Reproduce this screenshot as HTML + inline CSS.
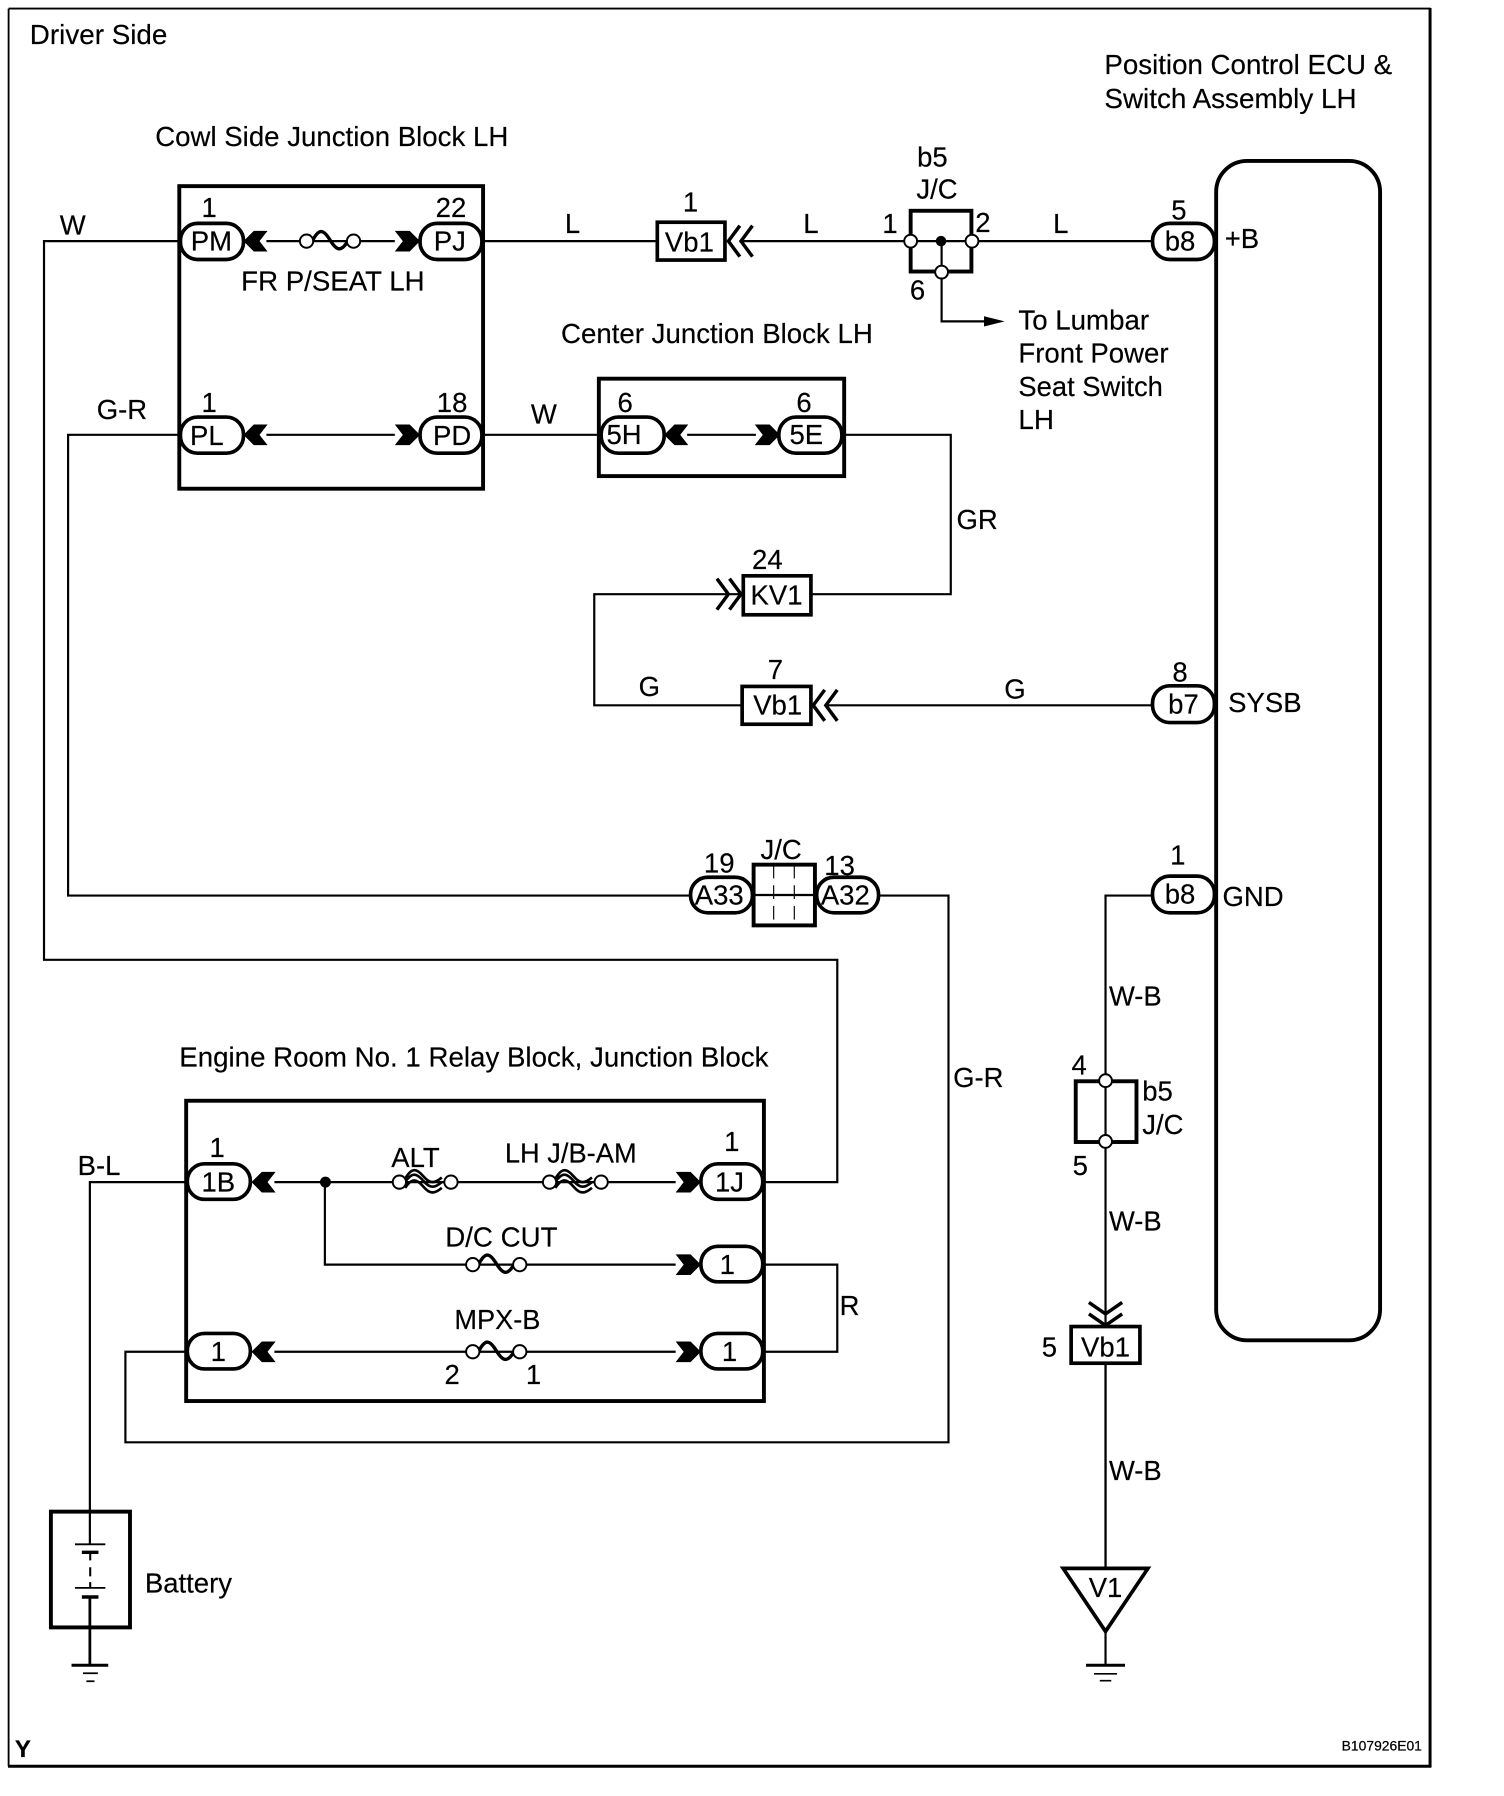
<!DOCTYPE html>
<html><head><meta charset="utf-8"><title>Driver Side wiring diagram</title>
<style>
html,body{margin:0;padding:0;background:#fff}
svg{display:block}
text{font-family:"Liberation Sans",sans-serif;font-size:24px;fill:#000;stroke:#000;stroke-width:.15}
.m{text-anchor:middle}
.w{fill:none;stroke:#000;stroke-width:1.9}
.b{fill:none;stroke:#000;stroke-width:3.4}
.p{fill:#fff;stroke:#000;stroke-width:3.2}
.o{fill:#fff;stroke:#000;stroke-width:1.7}
.c{fill:none;stroke:#000;stroke-width:3}
</style></head><body>
<svg xmlns="http://www.w3.org/2000/svg" width="1504" height="1796" viewBox="0 0 1312 1567" preserveAspectRatio="none">
<defs>
<polygon id="al" points="-1,0 8,-9 20,-9 13,0 20,9 8,9" fill="#000"/>
<polygon id="ar" points="1,0 -8,-9 -21,-9 -14,0 -21,9 -8,9" fill="#000"/>
<path id="cl" d="M10,-13.5 L0,0 L10,13.5 M21,-13.5 L11,0 L21,13.5" class="c"/>
<g id="fuse"><path d="M5,0 C11,-12 15,-10 20.5,-1 C26,8 30,10 36,0" fill="none" stroke="#000" stroke-width="3"/><circle cx="0" cy="0" r="5.8" class="o"/><circle cx="41" cy="0" r="5.8" class="o"/></g>
<g id="fuse2"><path d="M5,-3 C11,-13 15,-12 21,-5 C27,2 31,1 37,-4 M5,0 C11,-9 15,-8 21,-1 C27,6 31,5 37,0 M5,5 C11,-4 15,-3 21,4 C27,11 31,10 37,5" fill="none" stroke="#000" stroke-width="2.3"/><circle cx="0" cy="0" r="5.8" class="o"/><circle cx="45" cy="0" r="5.8" class="o"/></g>
</defs>

<!-- frame -->
<path d="M7.5,7.5 H1248 M7.5,7.5 V1541" fill="none" stroke="#000" stroke-width="1.6"/>
<path d="M1247.5,7 V1542 M7,1541 H1248.5" fill="none" stroke="#000" stroke-width="2.6"/>

<g transform="translate(-.6,-.6)">
<text x="26.6" y="39" textLength="120" lengthAdjust="spacingAndGlyphs">Driver Side</text>
<text x="136" y="128" textLength="308" lengthAdjust="spacingAndGlyphs">Cowl Side Junction Block LH</text>
<text x="964" y="65" textLength="251" lengthAdjust="spacingAndGlyphs">Position Control ECU &amp;</text>
<text x="964" y="95" textLength="220" lengthAdjust="spacingAndGlyphs">Switch Assembly LH</text>
<text x="490" y="300" textLength="272" lengthAdjust="spacingAndGlyphs">Center Junction Block LH</text>
<text x="157" y="931" textLength="514" lengthAdjust="spacingAndGlyphs">Engine Room No. 1 Relay Block, Junction Block</text>

<!-- wires -->
<path class="w" d="M157,211 H39 V838 H731 V1032 H667"/>
<path class="w" d="M157,380 H60 V782 H603"/>
<path class="w" d="M422,211 H574"/>
<path class="w" d="M647,211 H795"/>
<path class="w" d="M848,211 H1006"/>
<path class="w" d="M422,380 H523"/>
<path class="w" d="M735,380 H830 V519 H708"/>
<path class="w" d="M648,519 H519 V616 H648"/>
<path class="w" d="M720,616 H1006"/>
<path class="w" d="M767,782 H828 V1259 H110 V1180 H163"/>
<path class="w" d="M1006,782 H965 V1368"/>
<path class="w" d="M163,1032 H79 V1348"/>
<path class="w" d="M667,1104 H731 V1180 H667"/>
<path class="w" d="M822,238 V281 H862"/>
<polygon points="859,276.5 877,281 859,285.5" fill="#000"/>

<!-- cowl block -->
<rect x="157" y="163" width="265" height="264" class="b"/>
<path class="w" d="M233,211 H345 M233,380 H345"/>
<use href="#fuse" x="268" y="211"/>
<use href="#al" x="214" y="211"/><use href="#ar" x="366" y="211"/>
<use href="#al" x="214" y="380"/><use href="#ar" x="366" y="380"/>
<rect x="158" y="195.5" width="55" height="31.5" rx="15" class="p"/>
<rect x="367" y="195.5" width="54" height="31.5" rx="15" class="p"/>
<rect x="158" y="364.5" width="55" height="31.5" rx="15" class="p"/>
<rect x="367" y="364.5" width="54" height="31.5" rx="15" class="p"/>
<text x="185" y="219" class="m">PM</text><text x="393" y="219" class="m">PJ</text>
<text x="181" y="389" class="m">PL</text><text x="395" y="389" class="m">PD</text>
<text x="183" y="190" class="m">1</text><text x="394" y="190" class="m">22</text>
<text x="183" y="360" class="m">1</text><text x="395" y="360" class="m">18</text>
<text x="211" y="254" textLength="160" lengthAdjust="spacingAndGlyphs">FR P/SEAT LH</text>
<text x="64" y="205" class="m">W</text>
<text x="107" y="366" class="m">G-R</text>
<text x="500" y="204" class="m">L</text>
<text x="475" y="370" class="m">W</text>

<!-- center block -->
<rect x="523" y="331" width="214" height="85" class="b"/>
<path class="w" d="M600,380 H660"/>
<use href="#al" x="581" y="380"/><use href="#ar" x="680" y="380"/>
<rect x="525" y="364.5" width="55" height="31.5" rx="15" class="p"/>
<rect x="680" y="364.5" width="55" height="31.5" rx="15" class="p"/>
<text x="545" y="388" class="m">5H</text><text x="704" y="388" class="m">5E</text>
<text x="546" y="360" class="m">6</text><text x="702" y="360" class="m">6</text>

<!-- Vb1 top -->
<rect x="574" y="194.5" width="59" height="33" class="p"/>
<text x="602" y="220" class="m">Vb1</text>
<text x="603" y="185" class="m">1</text>
<use href="#cl" x="636" y="211"/>
<text x="708" y="204" class="m">L</text>

<!-- b5 J/C top -->
<rect x="795" y="184.5" width="53" height="53" class="b"/>
<path class="w" d="M795,211 H848 M822,211 V238"/>
<circle cx="821.5" cy="211" r="4.6" fill="#000"/>
<circle cx="795" cy="211" r="5.6" class="o"/><circle cx="848.5" cy="211" r="5.6" class="o"/><circle cx="822" cy="238" r="5.6" class="o"/>
<text x="814" y="146" class="m">b5</text>
<text x="818" y="174" class="m">J/C</text>
<text x="777" y="204" class="m">1</text><text x="858" y="203" class="m">2</text><text x="801" y="262" class="m">6</text>
<text x="926" y="204" class="m">L</text>
<text x="889" y="288" textLength="114" lengthAdjust="spacingAndGlyphs">To Lumbar</text>
<text x="889" y="317" textLength="131" lengthAdjust="spacingAndGlyphs">Front Power</text>
<text x="889" y="346" textLength="126" lengthAdjust="spacingAndGlyphs">Seat Switch</text>
<text x="889" y="375" textLength="31" lengthAdjust="spacingAndGlyphs">LH</text>

<!-- ECU -->
<rect x="1061.5" y="141" width="143" height="1029" rx="27" class="b"/>
<rect x="1006" y="195.5" width="54" height="31.5" rx="15" class="p"/>
<text x="1030" y="219" class="m">b8</text><text x="1029" y="192" class="m">5</text>
<text x="1069" y="217">+B</text>
<rect x="1006" y="599" width="54" height="32" rx="15" class="p"/>
<text x="1033" y="623" class="m">b7</text><text x="1030" y="595" class="m">8</text>
<text x="1072" y="622">SYSB</text>
<rect x="1006" y="765" width="54" height="32" rx="15" class="p"/>
<text x="1030" y="789" class="m">b8</text><text x="1028" y="755" class="m">1</text>
<text x="1067" y="791">GND</text>

<!-- KV1 / Vb1 -->
<rect x="649" y="503" width="59" height="34" class="p"/>
<text x="678" y="528" class="m">KV1</text><text x="670" y="497" class="m">24</text>
<g transform="translate(647,519) scale(-1,1)"><use href="#cl"/></g>
<text x="853" y="462" class="m">GR</text>
<rect x="648" y="599.5" width="60" height="33" class="p"/>
<text x="679" y="624" class="m">Vb1</text><text x="677" y="593" class="m">7</text>
<use href="#cl" x="710" y="616"/>
<text x="567" y="608" class="m">G</text><text x="886" y="610" class="m">G</text>

<!-- A33/A32 -->
<rect x="603" y="766" width="54" height="31" rx="15" class="p"/>
<rect x="713" y="766" width="54" height="31" rx="15" class="p"/>
<rect x="658" y="755" width="53.5" height="53" class="b" fill="#fff"/>
<path class="w" d="M658,781.5 H712"/>
<path d="M675.5,755 V808 M693.5,755 V808" stroke="#000" stroke-width="1" stroke-dasharray="12,6" fill="none"/>
<text x="628" y="790" class="m">A33</text><text x="738" y="790" class="m">A32</text>
<text x="628" y="762" class="m">19</text><text x="733" y="764" class="m">13</text>
<text x="682" y="750" class="m">J/C</text>
<text x="854" y="949" class="m">G-R</text>

<!-- lower J/C -->
<text x="968" y="878" textLength="46" lengthAdjust="spacingAndGlyphs">W-B</text>
<rect x="939" y="944" width="53" height="53" class="b"/>
<circle cx="965" cy="943.5" r="5.6" class="o"/><circle cx="965" cy="996.5" r="5.6" class="o"/>
<text x="942" y="938" class="m">4</text><text x="943" y="1026" class="m">5</text>
<text x="997" y="961">b5</text><text x="997" y="990">J/C</text>
<text x="968" y="1074" textLength="46" lengthAdjust="spacingAndGlyphs">W-B</text>
<path class="c" d="M950.5,1137 L965,1147 L979.5,1137 M950.5,1147 L965,1157 L979.5,1147" stroke-width="2.6"/>
<rect x="935" y="1158" width="60" height="32" class="p"/>
<text x="965" y="1184" class="m">Vb1</text><text x="916" y="1184" class="m">5</text>
<path class="w" d="M965,1190 V1453"/>
<text x="968" y="1292" textLength="46" lengthAdjust="spacingAndGlyphs">W-B</text>
<polygon points="928,1369 1002,1369 965,1424" fill="#fff" stroke="#000" stroke-width="3.2"/>
<text x="965" y="1394" class="m">V1</text>
<path d="M948,1453.5 H982" stroke="#000" stroke-width="2.6"/>
<path d="M955,1461 H975 M960,1467 H970" stroke="#000" stroke-width="1.5"/>

<!-- engine block -->
<rect x="163" y="961" width="504" height="262" class="b"/>
<path class="w" d="M240,1032 H590 M284,1032 V1104 H590 M240,1180 H590"/>
<use href="#fuse2" x="349" y="1032"/>
<use href="#fuse2" x="480" y="1032"/>
<use href="#fuse" x="413" y="1104"/>
<use href="#fuse" x="413" y="1180"/>
<circle cx="284.5" cy="1032" r="4.8" fill="#000"/>
<use href="#al" x="221" y="1032"/><use href="#ar" x="611" y="1032"/>
<use href="#ar" x="611" y="1104"/>
<use href="#al" x="221" y="1180"/><use href="#ar" x="611" y="1180"/>
<rect x="164" y="1016" width="55" height="31" rx="15" class="p"/>
<rect x="612" y="1016" width="54" height="31" rx="15" class="p"/>
<rect x="612" y="1088" width="54" height="31" rx="15" class="p"/>
<rect x="164" y="1164" width="55" height="31" rx="15" class="p"/>
<rect x="612" y="1164" width="54" height="31" rx="15" class="p"/>
<text x="191" y="1040" class="m">1B</text><text x="637" y="1040" class="m">1J</text>
<text x="635" y="1112" class="m">1</text>
<text x="191" y="1188" class="m">1</text><text x="637" y="1188" class="m">1</text>
<text x="190" y="1010" class="m">1</text><text x="639" y="1005" class="m">1</text>
<text x="363" y="1019" class="m">ALT</text>
<text x="441" y="1015" textLength="115" lengthAdjust="spacingAndGlyphs">LH J/B-AM</text>
<text x="389" y="1088" textLength="98" lengthAdjust="spacingAndGlyphs">D/C CUT</text>
<text x="397" y="1160" textLength="75" lengthAdjust="spacingAndGlyphs">MPX-B</text>
<text x="395" y="1208" class="m">2</text><text x="466" y="1208" class="m">1</text>
<text x="87" y="1026" class="m">B-L</text>
<text x="733" y="1148">R</text>

<!-- battery -->
<rect x="45" y="1319.5" width="69" height="101" class="b"/>
<path d="M66,1348 H92.5 M66,1386 H92.5" stroke="#000" stroke-width="1.6"/>
<path d="M72,1355 H86.5 M72,1394 H86.5" stroke="#000" stroke-width="3"/>
<path d="M79.3,1355 V1362 M79.3,1368 V1376 M79.3,1381 V1386" stroke="#000" stroke-width="1.8"/>
<path d="M79,1394 V1453" stroke="#000" stroke-width="2.4"/>
<path d="M63,1453.5 H95" stroke="#000" stroke-width="2.6"/>
<path d="M73,1460.5 H86 M76,1467.5 H83" stroke="#000" stroke-width="1.5"/>
<text x="127" y="1390" textLength="76" lengthAdjust="spacingAndGlyphs">Battery</text>

<text x="13.6" y="1533.6" style="font-size:21px;font-weight:bold">Y</text>
<text x="1171" y="1528" textLength="70" lengthAdjust="spacingAndGlyphs" style="font-size:12px;stroke:#000;stroke-width:.2">B107926E01</text>
</g>
</svg>
</body></html>
